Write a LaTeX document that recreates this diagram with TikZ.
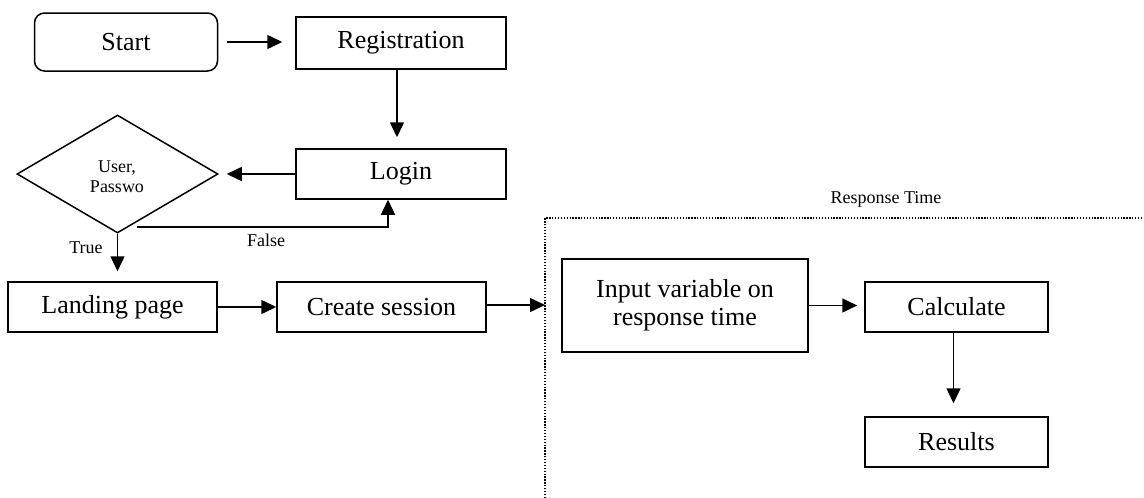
\documentclass[tikz,border=0pt]{standalone}
\usepackage{fontspec}
\setmainfont{Liberation Serif}
\usetikzlibrary{arrows.meta,shapes.geometric}
\begin{document}
\begin{tikzpicture}[x=1pt,y=-1pt,
  box/.style={draw,line width=1.5pt,inner sep=0pt,minimum width=209pt,minimum height=50pt,font=\fontsize{26}{28}\selectfont,align=center},
  dec/.style={draw,diamond,line width=1.5pt,inner sep=0pt,minimum width=201pt,minimum height=118pt},
  small/.style={font=\fontsize{18}{20}\selectfont,align=center,inner sep=0pt},
  arr/.style={line width=1.5pt,-{Triangle[length=15pt,width=14pt]}},
  dotline/.style={line width=1.5pt,dash pattern=on 1.3pt off 1.6pt}]
\useasboundingbox (0,0) rectangle (1144,498);
\node[box,rounded corners=10pt,minimum width=183pt,minimum height=58pt] (start) at (126,42) {Start};
\node[box,minimum width=210pt,minimum height=52pt] (reg) at (401,43) {Registration};
\node[box,minimum width=210pt] (login) at (401,174) {Login};
\node[dec] (dec) at (117.5,174) {};
\node[small] (dectext) at (117,177) {User,\\Passwo};
\node[box] (land) at (112.5,307) {Landing page};
\node[box] (create) at (381.5,307) {Create session};
\node[box,minimum width=246pt,minimum height=93pt] (input) at (685,305.5) {Input variable on\\response time};
\node[box,minimum width=183pt] (calc) at (956.5,307) {Calculate};
\node[box,minimum width=183pt] (res) at (956.5,442) {Results};
\coordinate (rtl) at (545,218);
\coordinate (rbl) at (545,498);
\coordinate (rtr) at (1144,218);
\coordinate (rin) at (545,305);
\coordinate (fs) at (137,227);
\draw[dotline] (rbl) -- (rtl) -- (rtr);
\node[small] (rtlabel) at (886,199) {Response Time};
\node[small] (truelabel) at (86,248) {True};
\node[small] (falselabel) at (266,240) {False};
\draw[arr,shorten <=9pt,shorten >=13pt] (start.east) -- (start.east -| reg.west);
\draw[arr,shorten >=11pt] ([xshift=-4pt]reg.south) -- ([xshift=-4pt]login.north);
\draw[arr,shorten >=8pt] (login.west) -- (login.west -| dec.east);
\draw[arr,shorten >=10pt] (dec.south) -- (dec.south |- land.north);
\draw[arr] (fs) -| ([xshift=-13pt]login.south);
\draw[arr] (land.east) -- (create.west);
\draw[arr] (create.east |- rin) -- (rin);
\draw[arr,shorten >=7pt] (input.east) -- (input.east -| calc.west);
\draw[arr,shorten >=13pt] ([xshift=-3pt]calc.south) -- ([xshift=-3pt]res.north);
\end{tikzpicture}
\end{document}
